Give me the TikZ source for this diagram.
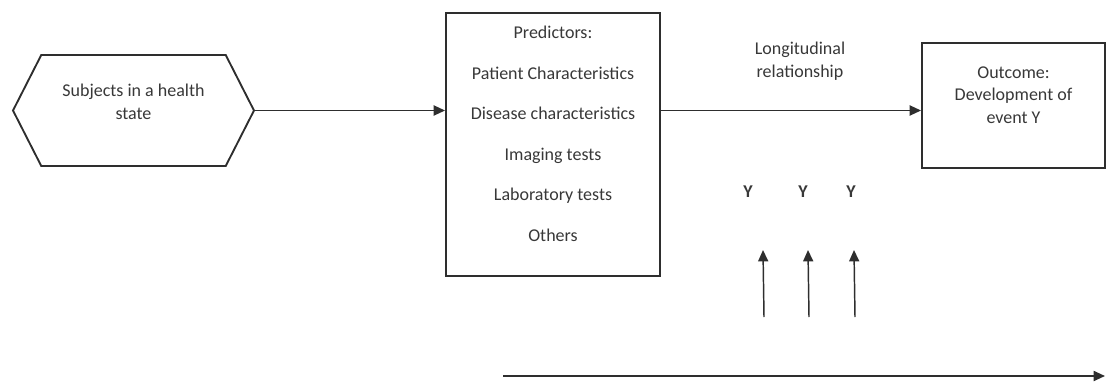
\documentclass[tikz,border=0pt]{standalone}
\usepackage{fontspec}
\setmainfont{Carlito}
\usepackage{xcolor}
\definecolor{lineGray}{HTML}{2E2E2E}
\definecolor{textGray}{HTML}{383838}
\usepackage{tikz}
\usetikzlibrary{
    shapes.symbols,
    arrows.meta,
    positioning,
    calc
}
\tikzset{
    % Base style for all nodes
    plain base/.style={
        font=\fontsize{13.5}{16.9}\selectfont,
        align=center,
        text=textGray,
    },
    % Start node - hexagon pointing both ways
    hexa/.style={
        plain base,
        signal,
        signal to=west and east,
        signal pointer angle=126,
        draw=lineGray,
        line width=1.4pt,
        minimum width=180.75pt,
        minimum height=83.25pt,
        inner sep=0pt,
    },
    % Plain rectangle boxes
    boxed/.style={
        plain base,
        rectangle,
        draw=lineGray,
        line width=1.4pt,
    },
    % Main arrow style
    arrow/.style={
        -{Triangle[length=8.5pt, width=7.5pt]},
        line width=1.4pt,
        draw=lineGray,
    },
    % Thin arrows for the measurements
    thin arrow/.style={
        arrow,
        line width=1.1pt,
    },
    % Bold event labels
    event/.style={
        plain base,
        font=\fontsize{13.5}{16.9}\selectfont\bfseries,
    },
}
% empty last line, lifts the text a little as in a text box
\newcommand{\padend}[1]{\\[#1]\mbox{}}

\begin{document}
\begin{tikzpicture}[x=0.75pt, y=-0.75pt]
    \useasboundingbox (0,0) rectangle (1106,382);

    \node (subj) [hexa] at (133.5,110.5) {Subjects in a health\\state\padend{-4pt}};
    \node (pred) [boxed, minimum width=160.5pt, minimum height=197.25pt] at (553,144.5)
        {Predictors:\\[13.5pt]Patient Characteristics\\[13.5pt]Disease characteristics\\[13.5pt]%
         Imaging tests\\[13.5pt]Laboratory tests\\[13.5pt]Others\padend{-1pt}};
    \node (outc) [boxed, minimum width=137.25pt, minimum height=93.75pt] at (1013.5,105.5)
        {Outcome:\\Development of\\event Y\padend{-1pt}};
    \node (lrel) [plain base] at (800,61) {Longitudinal\\relationship};

    \node (y1) [event] at (748,192) {Y};
    \node (y2) [event] at (803,192) {Y};
    \node (y3) [event] at (851,192) {Y};

    \coordinate (m1 foot) at (764,317);
    \coordinate (m1 tip) at (763,250);
    \coordinate (m2 foot) at (809,317);
    \coordinate (m2 tip) at (808,250);
    \coordinate (m3 foot) at (855,317);
    \coordinate (m3 tip) at (854,250);
    \coordinate (t start) at (503,376);
    \coordinate (t end) at (1105,376);

    \draw [arrow] (subj.east) -- (subj.east -| pred.west);
    \draw [arrow] (pred.east |- subj.east) -- (outc.west |- subj.east);
    \draw [thin arrow] (m1 foot) -- (m1 tip);
    \draw [thin arrow] (m2 foot) -- (m2 tip);
    \draw [thin arrow] (m3 foot) -- (m3 tip);
    \draw [arrow] (t start) -- (t end);
\end{tikzpicture}
\end{document}
